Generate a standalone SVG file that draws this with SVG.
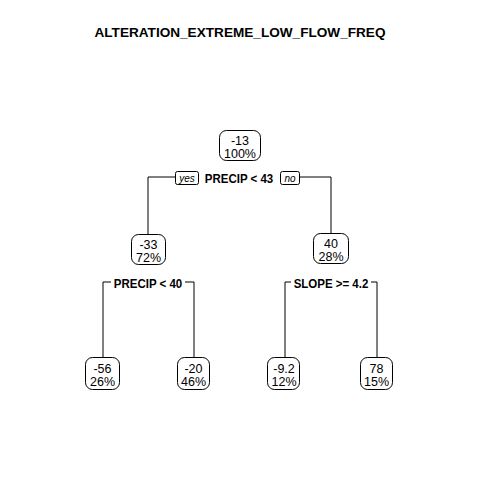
<svg xmlns="http://www.w3.org/2000/svg" width="480" height="480" viewBox="0 0 480 480">
<style>
.bg{fill:#fff}
.box{fill:#fff;stroke:#000;stroke-width:1}
.t{font-family:"Liberation Sans",Arial,sans-serif;font-size:12.5px;text-anchor:middle;fill:#000}
.s{font-family:"Liberation Sans",Arial,sans-serif;font-size:11.5px;font-weight:bold;text-anchor:middle;fill:#000}
.yn{font-family:"Liberation Sans",Arial,sans-serif;font-size:10px;font-style:italic;text-anchor:middle;fill:#000}
.c{fill:none;stroke:#000;stroke-width:1}
.title{font-family:"Liberation Sans",Arial,sans-serif;font-size:13.6px;font-weight:bold;text-anchor:middle;fill:#000}
</style>
<rect class="bg" width="480" height="480"/>
<text class="title" x="240" y="37">ALTERATION_EXTREME_LOW_FLOW_FREQ</text>
<g id="connectors">
<polyline class="c" points="148,234 148,177 175,177"/>
<polyline class="c" points="300,177 331,177 331,233"/>
<polyline class="c" points="103,357 103,282 111,282"/>
<polyline class="c" points="185,282 194,282 194,357"/>
<polyline class="c" points="285,357 285,282 291,282"/>
<polyline class="c" points="371,282 377,282 377,357"/>
</g>
<g id="root">
<rect class="box" x="219.5" y="130.5" width="41" height="30" rx="7"/>
<text class="t" x="240" y="145">-13</text>
<text class="t" x="240" y="158">100%</text>
</g>
<g id="split1">
<rect class="box" x="175.5" y="171.5" width="23" height="13" rx="2"/>
<text class="yn" x="187" y="182">yes</text>
<text class="s" transform="translate(239,182.5) scale(1,1.12)">PRECIP &lt; 43</text>
<rect class="box" x="280.5" y="171.5" width="19" height="13" rx="2"/>
<text class="yn" x="290" y="182">no</text>
</g>
<g id="n2">
<rect class="box" x="131.5" y="234.5" width="34" height="30" rx="7"/>
<text class="t" x="148.5" y="249">-33</text>
<text class="t" x="148.5" y="262">72%</text>
</g>
<g id="split2">
<text class="s" transform="translate(148,287.5) scale(1,1.12)">PRECIP &lt; 40</text>
</g>
<g id="n3">
<rect class="box" x="313.5" y="233.5" width="35" height="30" rx="7"/>
<text class="t" x="331" y="248">40</text>
<text class="t" x="331" y="261">28%</text>
</g>
<g id="split3">
<text class="s" transform="translate(331,287.5) scale(1,1.12)">SLOPE &gt;= 4.2</text>
</g>
<g id="leaf1">
<rect class="box" x="85.5" y="357.5" width="34" height="32" rx="7"/>
<text class="t" x="102.5" y="373">-56</text>
<text class="t" x="102.5" y="386">26%</text>
</g>
<g id="leaf2">
<rect class="box" x="177.5" y="357.5" width="32" height="32" rx="7"/>
<text class="t" x="193.5" y="373">-20</text>
<text class="t" x="193.5" y="386">46%</text>
</g>
<g id="leaf3">
<rect class="box" x="267.5" y="357.5" width="32" height="32" rx="7"/>
<text class="t" x="284" y="373">-9.2</text>
<text class="t" x="284" y="386">12%</text>
</g>
<g id="leaf4">
<rect class="box" x="360.5" y="357.5" width="32" height="32" rx="7"/>
<text class="t" x="376.5" y="373">78</text>
<text class="t" x="376.5" y="386">15%</text>
</g>
</svg>
